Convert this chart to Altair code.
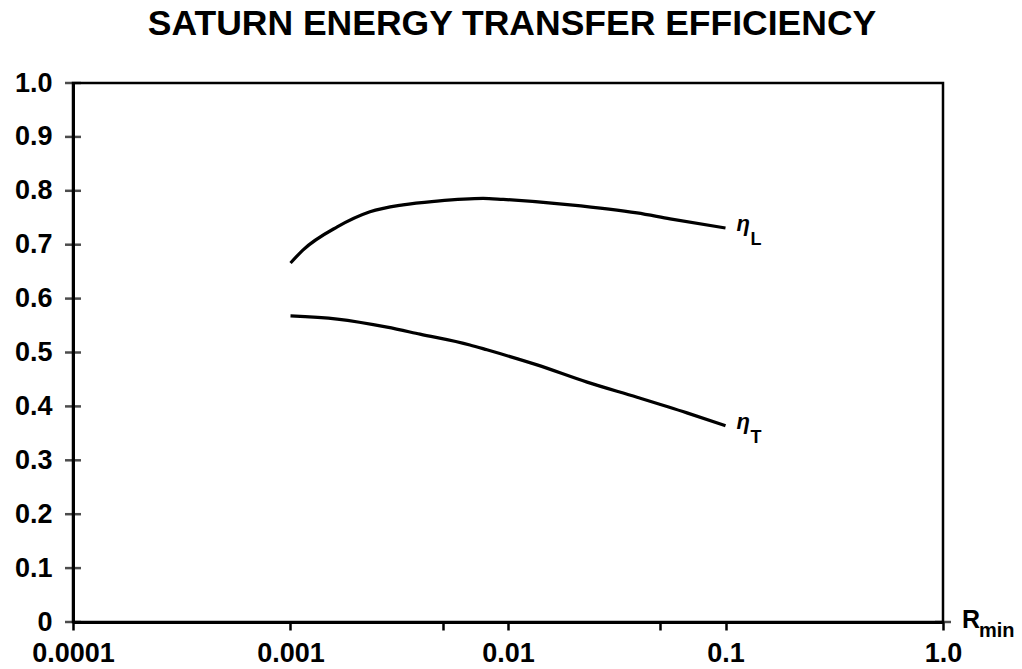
import altair as alt
import pandas as pd

# ---- data ----
x_eta_L = [0.001, 0.00114, 0.00164, 0.00232, 0.00329, 0.00472, 0.00768, 0.0095, 0.0193, 0.0392, 0.0556, 0.1]
y_eta_L = [0.666, 0.690, 0.733, 0.761, 0.774, 0.781, 0.786, 0.784, 0.774, 0.759, 0.748, 0.731]

x_eta_T = [0.001, 0.00164, 0.00278, 0.00394, 0.00668, 0.008, 0.0136, 0.0231, 0.0392, 0.0665, 0.1]
y_eta_T = [0.568, 0.562, 0.547, 0.534, 0.514, 0.505, 0.477, 0.445, 0.417, 0.388, 0.364]

series_names = ["L", "T"]

x_tick_values = [0.0001, 0.001, 0.005, 0.01, 0.05, 0.1, 1.0]
x_tick_labels = ["0.0001", "0.001", "", "0.01", "", "0.1", "1.0"]

y_tick_values = [0, 0.1, 0.2, 0.3, 0.4, 0.5, 0.6, 0.7, 0.8, 0.9, 1.0]
y_tick_labels = ["0", "0.1", "0.2", "0.3", "0.4", "0.5", "0.6", "0.7", "0.8", "0.9", "1.0"]

title_text = "SATURN ENERGY TRANSFER EFFICIENCY"
x_title_main = "R"
x_title_sub = "min"

# ---- tables ----
rows = []
for x, y in zip(x_eta_L, y_eta_L):
    rows.append({"series": "L", "x": x, "y": y})
for x, y in zip(x_eta_T, y_eta_T):
    rows.append({"series": "T", "x": x, "y": y})
lines_df = pd.DataFrame(rows)

ends_df = pd.DataFrame({
    "series": series_names,
    "x": [x_eta_L[-1], x_eta_T[-1]],
    "y": [y_eta_L[-1], y_eta_T[-1]],
    "eta": ["η", "η"],
})

ticks_df = pd.DataFrame({
    "x": [x_tick_values[0]] * len(y_tick_values) + [x_tick_values[-1]],
    "y": y_tick_values + [y_tick_values[0]],
})

rmin_df = pd.DataFrame({"x": [x_tick_values[-1]], "y": [y_tick_values[0]],
                        "main": [x_title_main], "sub": [x_title_sub]})


def label_expr(values, labels):
    expr = "''"
    for v, l in reversed(list(zip(values, labels))):
        expr = f"abs(datum.value - {v}) < {v * 1e-6 + 1e-12} ? '{l}' : ({expr})"
    return expr


FONT = "Liberation Sans"

x_scale = alt.Scale(type="log", domain=[x_tick_values[0], x_tick_values[-1]], nice=False)
y_scale = alt.Scale(domain=[y_tick_values[0], y_tick_values[-1]], nice=False, zero=False)

x_axis = alt.Axis(values=x_tick_values, labelExpr=label_expr(x_tick_values, x_tick_labels),
                  title=None, grid=False, ticks=True, tickSize=8, tickWidth=2.5,
                  tickColor="black", domainColor="black", domainWidth=3,
                  labelFont=FONT, labelFontSize=27, labelFontWeight="bold", labelColor="black",
                  labelPadding=10, labelFlush=False, labelOverlap=False)
y_axis = alt.Axis(values=y_tick_values, labelExpr=label_expr(y_tick_values, y_tick_labels),
                  title=None, grid=False, ticks=False, labelPadding=21,
                  domainColor="black", domainWidth=3,
                  labelFont=FONT, labelFontSize=27, labelFontWeight="bold", labelColor="black",
                  labelOverlap=False, labelFlush=False)

lines = alt.Chart(lines_df).mark_line(color="black", strokeWidth=3.2, interpolate="monotone").encode(
    x=alt.X("x:Q", scale=x_scale, axis=x_axis),
    y=alt.Y("y:Q", scale=y_scale, axis=y_axis),
    detail="series:N",
)

ticks = alt.Chart(ticks_df).mark_tick(orient="horizontal", color="black", thickness=2.5, size=16).encode(
    x=alt.X("x:Q", scale=x_scale),
    y=alt.Y("y:Q", scale=y_scale),
)

eta_text = alt.Chart(ends_df).mark_text(
    align="left", baseline="alphabetic", dx=11, dy=3, font=FONT, fontSize=22,
    fontStyle="italic", fontWeight="bold", color="black"
).encode(x=alt.X("x:Q", scale=x_scale), y=alt.Y("y:Q", scale=y_scale), text="eta:N")

sub_text = alt.Chart(ends_df).mark_text(
    align="left", baseline="alphabetic", dx=25, dy=17, font=FONT, fontSize=18,
    fontWeight="bold", color="black"
).encode(x=alt.X("x:Q", scale=x_scale), y=alt.Y("y:Q", scale=y_scale), text="series:N")

rmain = alt.Chart(rmin_df).mark_text(
    align="left", baseline="alphabetic", dx=19, dy=6, font=FONT, fontSize=25,
    fontWeight="bold", color="black"
).encode(x=alt.X("x:Q", scale=x_scale), y=alt.Y("y:Q", scale=y_scale), text="main:N")

rsub = alt.Chart(rmin_df).mark_text(
    align="left", baseline="alphabetic", dx=36, dy=15, font=FONT, fontSize=20,
    fontWeight="bold", color="black"
).encode(x=alt.X("x:Q", scale=x_scale), y=alt.Y("y:Q", scale=y_scale), text="sub:N")

chart = alt.layer(lines, ticks, eta_text, sub_text, rmain, rsub).properties(
    width=870, height=539,
    title=alt.TitleParams(title_text, font=FONT, fontSize=35.5, fontWeight="bold",
                          color="black", anchor="middle", offset=27, dx=4),
    autosize=alt.AutoSizeParams(type="none"),
    padding={"left": 73, "top": 83, "right": 79, "bottom": 47},
    background="white",
).configure_view(
    stroke="black", strokeWidth=2.5
)

chart.save("out.html", embed_options={"renderer": "svg", "actions": False})
